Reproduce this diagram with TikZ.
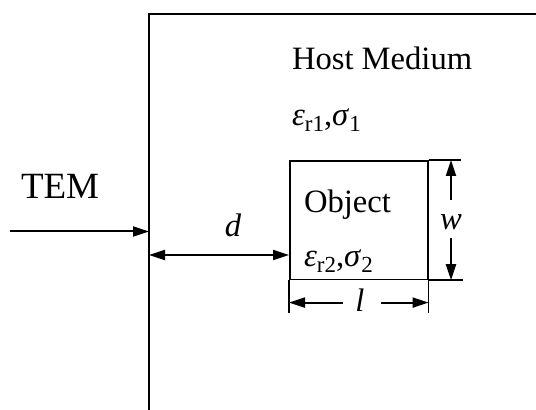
\documentclass[tikz,border=0pt]{standalone}
\usepackage{fontspec}
\setmainfont{Liberation Serif}
\usetikzlibrary{arrows.meta}
\begin{document}
\begin{tikzpicture}[x=0.5pt,y=-0.5pt,
  line width=1pt,
  tip/.tip={Triangle[length=8pt,width=5pt]},
  arr/.style={-tip},
  darr/.style={tip-tip},
  lbl/.style={font=\fontsize{16.3}{19}\selectfont, inner sep=0pt},
  big/.style={font=\fontsize{18.5}{22}\selectfont, inner sep=0pt},
  thin/.style={line width=0.8pt}
  ]
\useasboundingbox (0,0) rectangle (536,410);
% host medium frame
\coordinate (hostTL) at (149,14);
\coordinate (hostTR) at (540,14);
\coordinate (hostBL) at (149,412);
\draw (hostTR) -- (hostTL) -- (hostBL);
% object box
\node[draw, thin, inner sep=0pt, minimum width=69pt, minimum height=59.3pt, anchor=north west] (obj) at (289,160) {};
% texts
\node[lbl, anchor=base west] (host) at (291,70) {Host Medium};
\node[lbl, anchor=base west] (eps1) at (291,126) {\textit{ε}\raisebox{-0.35ex}{\fontsize{11.5}{13}\selectfont r1},\textit{σ}\raisebox{-0.35ex}{\fontsize{11.5}{13}\selectfont 1}};
\node[lbl, anchor=base west] (objtxt) at (303,213) {Object};
\node[lbl, anchor=base west] (eps2) at (303,267) {\textit{ε}\raisebox{-0.35ex}{\fontsize{11.5}{13}\selectfont r2},\textit{σ}\raisebox{-0.35ex}{\fontsize{11.5}{13}\selectfont 2}};
\node[big, anchor=base west] (tem) at (20,199) {TEM};
\node[lbl, anchor=base] (dlbl) at (233,237) {\textit{d}};
\node[lbl, anchor=base] (wlbl) at (451,230) {\textit{w}};
\node[lbl, anchor=base] (llbl) at (360,312) {\textit{l}};
% TEM arrow
\coordinate (temS) at (10,231.5);
\draw[arr] (temS) -- (temS -| hostTL);
% d dimension
\coordinate (dL) at (149,255);
\draw[darr] (dL) -- (obj.west |- dL);
% w dimension
\draw[thin] (obj.north east) -- ++(32,0) coordinate (wTop);
\draw[thin] (obj.south east) -- ++(34,0) coordinate (wBot);
\coordinate (wU) at (451,200);
\coordinate (wD) at (451,238);
\draw[arr] (wU) -- (wU |- wTop);
\draw[arr] (wD) -- (wD |- wBot);
% l dimension
\draw[thin] (obj.south west) -- ++(0,33) coordinate (lL);
\draw[thin] (obj.south east) -- ++(0,33) coordinate (lR);
\coordinate (lA) at (343,302.6);
\coordinate (lB) at (381,302.6);
\draw[arr] (lA) -- (lA -| obj.west);
\draw[arr] (lB) -- (lB -| obj.east);
\end{tikzpicture}
\end{document}
